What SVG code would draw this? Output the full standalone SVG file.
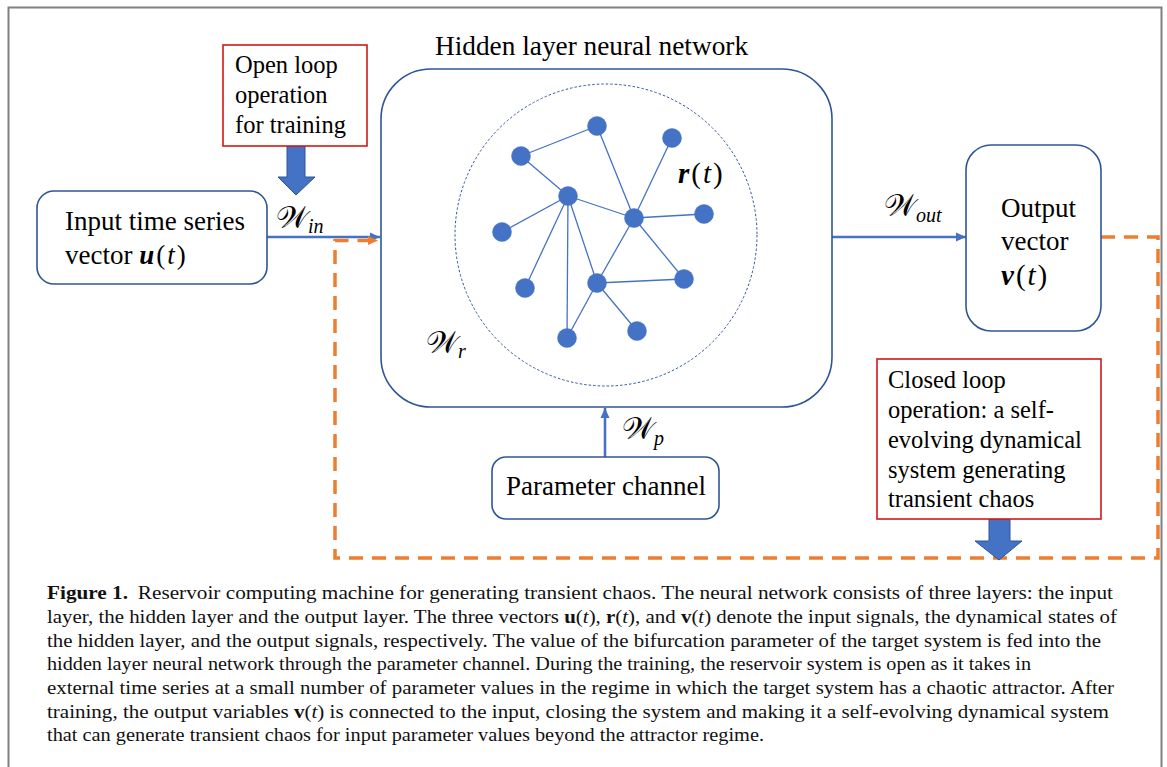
<svg xmlns="http://www.w3.org/2000/svg" width="1167" height="767" viewBox="0 0 1167 767">
<style>
  .t{font-family:"Liberation Serif","Times New Roman",serif;fill:#000}
  .box{fill:#fff;stroke:#2f5597;stroke-width:1.6}
  .red{fill:#fff;stroke:#d01818;stroke-width:1.6}
  .edge{stroke:#4472c4;stroke-width:1.3;fill:none}
  .node{fill:#4472c4;stroke:#4472c4;stroke-width:0.5}
  .blue{stroke:#4472c4;stroke-width:2.6;fill:none}
  .orange{stroke:#ed7d31;stroke-width:3.5;fill:none;stroke-dasharray:14 9}
  .big{fill:#4472c4;stroke:#2f5597;stroke-width:1}
  .w{font-family:"Liberation Serif","DejaVu Serif","DejaVu Sans",serif;fill:#000}
  .sub{font-style:italic}
  .m{letter-spacing:2px}
  .cap{font-family:"Liberation Serif","Times New Roman",serif;font-size:19.5px;fill:#111}
</style>
<defs>
  <marker id="ab" markerUnits="userSpaceOnUse" markerWidth="11" markerHeight="10" refX="10" refY="5" orient="auto">
    <path d="M0,0.5 L10,5 L0,9.5 z" fill="#4472c4"/>
  </marker>
  <marker id="ao" markerUnits="userSpaceOnUse" markerWidth="11" markerHeight="10" refX="10" refY="5" orient="auto">
    <path d="M0,0.5 L10,5 L0,9.5 z" fill="#ed7d31"/>
  </marker>
</defs>
<rect width="1167" height="767" fill="#fff"/>
<path d="M8.5,780 V7.5 H1161.5 V780" fill="none" stroke="#808080" stroke-width="2"/>

<g id="connectors">
  <line class="blue" x1="267" y1="237" x2="380" y2="237" marker-end="url(#ab)"/>
  <line class="blue" x1="832" y1="237" x2="966" y2="237" marker-end="url(#ab)"/>
  <line class="blue" x1="605" y1="457" x2="605" y2="408" marker-end="url(#ab)"/>
  <path class="orange" d="M1101,237 H1158 V558 H335 V240.5 H378" marker-end="url(#ao)"/>
  <path class="big" d="M287,146 H305 V177 H315 L296,195 L278,177 H287 Z"/>
  <path class="big" d="M989,519 H1010 V541 H1022 L999,560 L975,541 H989 Z"/>
</g>

<g id="open-loop-note">
  <rect class="red" x="223" y="45" width="144" height="101"/>
  <text class="t" font-size="24.5"><tspan x="235" y="73">Open loop</tspan><tspan x="235" y="103">operation</tspan><tspan x="235" y="133">for training</tspan></text>
</g>

<g id="input">
  <rect class="box" x="37" y="191" width="230" height="93" rx="17"/>
  <text class="t" font-size="27"><tspan x="65" y="230">Input time series</tspan><tspan x="65" y="264">vector <tspan class="m" font-weight="bold" font-style="italic">u</tspan><tspan class="m">(</tspan><tspan class="m" font-style="italic">t</tspan>)</tspan></text>
</g>

<g id="hidden">
  <text class="t" font-size="27.3" x="435" y="55">Hidden layer neural network</text>
  <rect class="box" x="381" y="69" width="451" height="338" rx="50"/>
  <circle cx="606" cy="235" r="151" fill="none" stroke="#2f5597" stroke-width="1" stroke-dasharray="2.5 2"/>
  <g id="network">
    <line class="edge" x1="521" y1="156" x2="597" y2="126"/>
    <line class="edge" x1="521" y1="156" x2="568" y2="196"/>
    <line class="edge" x1="597" y1="126" x2="634" y2="218"/>
    <line class="edge" x1="672" y1="138" x2="634" y2="218"/>
    <line class="edge" x1="568" y1="196" x2="634" y2="218"/>
    <line class="edge" x1="634" y1="218" x2="704" y2="214"/>
    <line class="edge" x1="568" y1="196" x2="502" y2="232"/>
    <line class="edge" x1="568" y1="196" x2="525" y2="288"/>
    <line class="edge" x1="568" y1="196" x2="567" y2="338"/>
    <line class="edge" x1="568" y1="196" x2="597" y2="283"/>
    <line class="edge" x1="634" y1="218" x2="597" y2="283"/>
    <line class="edge" x1="634" y1="218" x2="684" y2="279"/>
    <line class="edge" x1="597" y1="283" x2="684" y2="279"/>
    <line class="edge" x1="597" y1="283" x2="567" y2="338"/>
    <line class="edge" x1="597" y1="283" x2="637" y2="331"/>
    <circle class="node" cx="597" cy="126" r="9.5"/>
    <circle class="node" cx="672" cy="138" r="9.5"/>
    <circle class="node" cx="521" cy="156" r="9.5"/>
    <circle class="node" cx="568" cy="196" r="9.5"/>
    <circle class="node" cx="634" cy="218" r="9.5"/>
    <circle class="node" cx="704" cy="214" r="9.5"/>
    <circle class="node" cx="502" cy="232" r="9.5"/>
    <circle class="node" cx="525" cy="288" r="9.5"/>
    <circle class="node" cx="597" cy="283" r="9.5"/>
    <circle class="node" cx="684" cy="279" r="9.5"/>
    <circle class="node" cx="567" cy="338" r="9.5"/>
    <circle class="node" cx="637" cy="331" r="9.5"/>
  </g>
  <text class="t" font-size="29" x="678" y="183"><tspan class="m" font-weight="bold" font-style="italic">r</tspan><tspan class="m">(</tspan><tspan class="m" font-style="italic">t</tspan>)</text>
  <text class="w" x="426" y="353" font-size="31">𝒲<tspan class="sub" font-size="20" dy="5">r</tspan></text>
</g>

<g id="labels">
  <text class="w" x="276" y="228" font-size="31">𝒲<tspan class="sub" font-size="20" dy="5">in</tspan></text>
  <text class="w" x="884" y="216" font-size="31">𝒲<tspan class="sub" font-size="20" dy="6">out</tspan></text>
  <text class="w" x="622" y="439" font-size="31">𝒲<tspan class="sub" font-size="20" dy="6">p</tspan></text>
</g>

<g id="output">
  <rect class="box" x="966" y="145" width="135" height="186" rx="25"/>
  <text class="t" font-size="27"><tspan x="1001" y="217">Output</tspan><tspan x="1001" y="250">vector</tspan><tspan x="1001" y="285" font-size="29"><tspan class="m" font-weight="bold" font-style="italic">v</tspan><tspan class="m">(</tspan><tspan class="m" font-style="italic">t</tspan>)</tspan></text>
</g>

<g id="closed-loop-note">
  <rect class="red" x="877" y="359" width="224" height="160"/>
  <text class="t" font-size="24.5"><tspan x="888" y="388">Closed loop</tspan><tspan x="888" y="418">operation: a self-</tspan><tspan x="888" y="448">evolving dynamical</tspan><tspan x="888" y="478">system generating</tspan><tspan x="888" y="507">transient chaos</tspan></text>
</g>

<g id="parameter">
  <rect class="box" x="492" y="457" width="227" height="62" rx="14"/>
  <text class="t" font-size="27" x="606" y="495" text-anchor="middle">Parameter channel</text>
</g>

<g id="caption">
  <text class="cap" x="47" y="599" textLength="1066" lengthAdjust="spacingAndGlyphs"><tspan font-weight="bold">Figure 1.</tspan><tspan dx="9">Reservoir computing machine for generating transient chaos. The neural network consists of three layers: the input</tspan></text>
  <text class="cap" x="47" y="623" textLength="1070" lengthAdjust="spacingAndGlyphs">layer, the hidden layer and the output layer. The three vectors <tspan font-weight="bold">u</tspan>(<tspan font-style="italic">t</tspan>), <tspan font-weight="bold">r</tspan>(<tspan font-style="italic">t</tspan>), and <tspan font-weight="bold">v</tspan>(<tspan font-style="italic">t</tspan>) denote the input signals, the dynamical states of</text>
  <text class="cap" x="47" y="647" textLength="1054" lengthAdjust="spacingAndGlyphs">the hidden layer, and the output signals, respectively. The value of the bifurcation parameter of the target system is fed into the</text>
  <text class="cap" x="47" y="670" textLength="984" lengthAdjust="spacingAndGlyphs">hidden layer neural network through the parameter channel. During the training, the reservoir system is open as it takes in</text>
  <text class="cap" x="47" y="694" textLength="1067" lengthAdjust="spacingAndGlyphs">external time series at a small number of parameter values in the regime in which the target system has a chaotic attractor. After</text>
  <text class="cap" x="47" y="718" textLength="1062" lengthAdjust="spacingAndGlyphs">training, the output variables <tspan font-weight="bold">v</tspan>(<tspan font-style="italic">t</tspan>) is connected to the input, closing the system and making it a self-evolving dynamical system</text>
  <text class="cap" x="47" y="741" textLength="717" lengthAdjust="spacingAndGlyphs">that can generate transient chaos for input parameter values beyond the attractor regime.</text>
</g>
</svg>
